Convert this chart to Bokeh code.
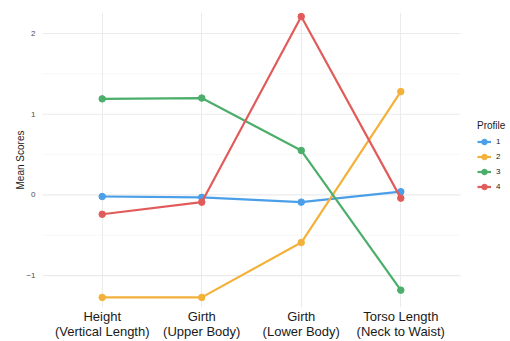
from bokeh.plotting import figure
from bokeh.models import (Range1d, FixedTicker, Legend, LegendItem, ColumnDataSource, LinearAxis)
from bokeh.embed import file_html
from bokeh.resources import INLINE

categories = ["Height\n(Vertical Length)", "Girth\n(Upper Body)",
              "Girth\n(Lower Body)", "Torso Length\n(Neck to Waist)"]
profiles = ["1", "2", "3", "4"]
profile1 = [-0.02, -0.03, -0.09, 0.04]
profile2 = [-1.27, -1.27, -0.59, 1.28]
profile3 = [1.19, 1.20, 0.55, -1.18]
profile4 = [-0.24, -0.09, 2.21, -0.04]
colors = ["#4A9FE8", "#F3B13A", "#4BAE6A", "#E25B5B"]
y_ticks = [-1, 0, 1, 2]
y_minor = [-1.5, -0.5, 0.5, 1.5]

xs = list(range(1, len(categories) + 1))
line1 = [c.split("\n")[0] for c in categories]
line2 = [c.split("\n")[1] for c in categories]

# panel spans 0.4 .. 4.6 in data units; frame extends further right for the legend
X0, X1 = 0.4, 4.6
W, H = 510, 341
LEFT = 42
px_per_unit = 418 / (X1 - X0)
FRAME_W = W - LEFT
p = figure(width=W, height=H, output_backend="svg", toolbar_location=None,
           x_range=Range1d(X0, X0 + FRAME_W / px_per_unit), y_range=Range1d(-1.395, 2.26),
           min_border_left=LEFT, min_border_right=0, min_border_top=12,
           min_border_bottom=10)
p.outline_line_color = None
p.background_fill_color = "white"

# horizontal grid lines, limited to the panel width
p.segment(x0=[X0] * len(y_minor), x1=[X1] * len(y_minor), y0=y_minor, y1=y_minor,
          line_color="#F2F2F2", line_width=0.6)
p.segment(x0=[X0] * len(y_ticks), x1=[X1] * len(y_ticks), y0=y_ticks, y1=y_ticks,
          line_color="#EBEBEB", line_width=1.1)

items = []
for name, vals, col in zip(profiles, [profile1, profile2, profile3, profile4], colors):
    src = ColumnDataSource(dict(x=xs, y=vals))
    l = p.line("x", "y", source=src, line_color=col, line_width=2.2)
    s = p.scatter("x", "y", source=src, size=6.5, fill_color=col, line_color=col)
    items.append(LegendItem(label=name, renderers=[l, s]))


def style_x(ax, labels, standoff):
    ax.ticker = FixedTicker(ticks=xs)
    ax.major_label_overrides = {x: c for x, c in zip(xs, labels)}
    ax.major_label_text_font = "Liberation Sans"
    ax.major_label_text_font_size = "13px"
    ax.major_label_text_color = "#1a1a1a"
    ax.major_label_standoff = standoff
    ax.axis_line_color = None
    ax.major_tick_line_color = None
    ax.minor_tick_line_color = None


style_x(p.xaxis[0], line1, -5)
ax2 = LinearAxis()
style_x(ax2, line2, -9)
p.add_layout(ax2, "below")

p.yaxis.ticker = FixedTicker(ticks=y_ticks, minor_ticks=y_minor)
p.yaxis.major_label_text_font = "Liberation Sans"
p.yaxis.major_label_text_font_size = "8px"
p.yaxis.major_label_text_color = "#4d4d4d"
p.yaxis.major_label_standoff = 1
p.yaxis.axis_line_color = None
p.yaxis.major_tick_line_color = None
p.yaxis.minor_tick_line_color = None
p.yaxis.axis_label = "Mean Scores"
p.yaxis.axis_label_text_font = "Liberation Sans"
p.yaxis.axis_label_text_font_style = "normal"
p.yaxis.axis_label_text_font_size = "10px"
p.yaxis.axis_label_text_color = "#1a1a1a"
p.yaxis.axis_label_standoff = -3

p.xgrid.grid_line_color = "#EBEBEB"
p.xgrid.grid_line_width = 1.1
p.ygrid.grid_line_color = None

legend = Legend(items=items, title="Profile", location=(435, 113),
                title_text_font="Liberation Sans", title_text_font_size="10px",
                title_text_color="#1a1a1a", title_text_font_style="normal",
                label_text_font="Liberation Sans", label_text_font_size="8px",
                label_text_color="#1a1a1a",
                glyph_width=14, glyph_height=15, label_height=15, spacing=0,
                padding=0, margin=0, border_line_color=None,
                background_fill_alpha=0, title_standoff=3, label_standoff=5)
p.add_layout(legend)

open("out.html", "w").write(file_html(p, INLINE))
